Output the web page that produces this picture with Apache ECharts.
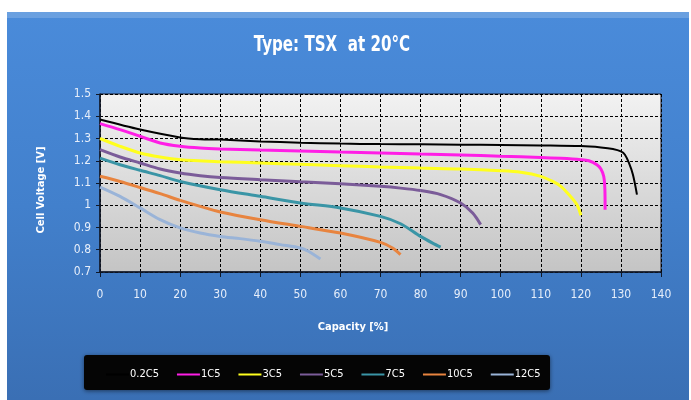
<!DOCTYPE html>
<html>
<head>
<meta charset="utf-8">
<script src="https://cdn.jsdelivr.net/npm/echarts@6/dist/echarts.min.js"></script>
<style>
html,body{margin:0;padding:0;background:#fff;}
#c{width:691px;height:400px;}
</style>
</head>
<body>
<div id="c"></div>
<script>
const titleText = 'Type: TSX  at 20°C';
const seriesNames = ['0.2C5','1C5','3C5','5C5','7C5','10C5','12C5'];
const seriesColors = ['#000000','#ff1ee6','#ffff1e','#7b5c99','#3a95a6','#e8843f','#9ab4d8'];

const cap02 = [0,10,20,25,30,40,50,60,70,80,90,100,110,120,125,128,130,131,132,133,134];
const v02   = [1.385,1.34,1.305,1.297,1.295,1.287,1.281,1.277,1.275,1.274,1.272,1.271,1.269,1.266,1.26,1.253,1.242,1.227,1.19,1.137,1.048];

const cap1 = [0,5,10,15,20,25,30,40,50,60,70,80,90,100,110,115,120,122,124,125,125.7,126,126.05];
const v1   = [1.367,1.34,1.31,1.28,1.265,1.257,1.253,1.248,1.244,1.239,1.235,1.23,1.226,1.22,1.215,1.211,1.205,1.2,1.182,1.163,1.13,1.07,0.98];

const cap3 = [0,5,10,15,20,30,40,50,60,70,80,90,100,105,110,113,115,117,119,120];
const v3   = [1.3,1.265,1.235,1.217,1.205,1.196,1.19,1.184,1.178,1.172,1.167,1.163,1.155,1.148,1.13,1.107,1.085,1.048,1.003,0.955];

const cap5 = [0,5,10,15,20,25,30,40,50,60,70,75,80,85,90,93,95];
const v5   = [1.25,1.217,1.19,1.163,1.145,1.133,1.125,1.115,1.106,1.097,1.085,1.077,1.066,1.048,1.01,0.965,0.913];

const cap7 = [0,5,10,15,20,30,40,50,60,70,75,80,83,85];
const v7   = [1.212,1.182,1.157,1.133,1.107,1.07,1.04,1.01,0.988,0.95,0.917,0.86,0.83,0.812];

const cap10 = [0,5,10,15,20,25,30,40,50,60,70,73,75];
const v10   = [1.13,1.107,1.08,1.052,1.022,0.995,0.97,0.935,0.905,0.875,0.833,0.808,0.778];

const cap12 = [0,5,10,15,20,25,30,35,40,45,50,52,55];
const v12   = [1.082,1.04,0.988,0.935,0.898,0.875,0.86,0.85,0.838,0.823,0.808,0.793,0.758];

const allCaps = [cap02,cap1,cap3,cap5,cap7,cap10,cap12];
const allVolts = [v02,v1,v3,v5,v7,v10,v12];
const lineWidths = [2,3,3,3,3,3,3];

const FONT = "'Liberation Sans Narrow','DejaVu Sans Condensed','Open Sans',sans-serif";

const chart = echarts.init(document.getElementById('c'), null, {renderer:'canvas'});

const series = seriesNames.map((n,i)=>({
  name:n,
  type:'line',
  smooth:0.3,
  showSymbol:false,
  symbol:'none',
  data: allCaps[i].map((x,j)=>[x, allVolts[i][j]]),
  lineStyle:{color:seriesColors[i], width:lineWidths[i]},
  itemStyle:{color:seriesColors[i]},
  z: 10 - i
}));

chart.setOption({
  animation:false,
  backgroundColor:'#ffffff',
  graphic:[
    {type:'rect', z:-10, shape:{x:7,y:12,width:682,height:388},
     style:{fill:new echarts.graphic.LinearGradient(0,0,0,1,[
       {offset:0,color:'#4a8bda'},{offset:0.5,color:'#4280cc'},{offset:1,color:'#3a6fb4'}])}},
    {type:'rect', z:-9, shape:{x:7,y:12,width:682,height:6},
     style:{fill:'rgba(255,255,255,0.18)'}},
    {type:'rect', z:-5, shape:{x:84,y:355,width:466,height:35, r:3},
     style:{fill:'#050505', shadowBlur:4, shadowColor:'rgba(0,0,0,0.5)', shadowOffsetY:1}},
    {type:'text', z:5, x:332, y:46, scaleX:0.8, scaleY:1,
     style:{text:titleText, x:0, y:0, align:'center', verticalAlign:'middle',
       fill:'#ffffff', font:"bold 21px " + FONT}}
  ],
  legend:{
    data:seriesNames,
    left:101, top:364,
    itemWidth:23, itemHeight:2, itemGap:18,
    icon:'rect',
    textStyle:{color:'#ffffff', fontSize:11, fontFamily:FONT, padding:[0,0,0,-4]},
    inactiveColor:'#555'
  },
  grid:{
    left:100, right:30, top:94, bottom:128,
    show:true,
    borderColor:'#1a1a2a', borderWidth:1,
    backgroundColor:new echarts.graphic.LinearGradient(0,0,0,1,[
      {offset:0,color:'#f2f2f2'},{offset:1,color:'#c4c4c4'}])
  },
  xAxis:{
    type:'value', min:0, max:140, interval:10,
    name:'Capacity [%]', nameLocation:'middle', nameGap:50,
    nameTextStyle:{color:'#ffffff', fontSize:11, fontWeight:'bold', fontFamily:FONT, padding:[0,55,0,0]},
    axisLine:{show:true, lineStyle:{color:'#101828', width:1.5}},
    axisTick:{show:true, length:5, lineStyle:{color:'#101828'}},
    axisLabel:{color:'#e6eefa', fontSize:12, margin:17, fontFamily:FONT},
    splitLine:{show:true, lineStyle:{color:'#000000', type:[3,2], width:1}}
  },
  yAxis:{
    type:'value', min:0.7, max:1.5, interval:0.1,
    name:'Cell Voltage [V]', nameLocation:'middle', nameGap:53,
    nameTextStyle:{color:'#ffffff', fontSize:11, fontWeight:'bold', fontFamily:FONT, padding:[0,0,0,-14]},
    axisLine:{show:true, lineStyle:{color:'#101828', width:1.5}},
    axisTick:{show:true, length:4, lineStyle:{color:'#101828'}},
    axisLabel:{color:'#e6eefa', fontSize:12, margin:9, fontFamily:FONT,
      formatter:v=>String(parseFloat(v.toFixed(1)))},
    splitLine:{show:true, lineStyle:{color:'#000000', type:[3,2], width:1}}
  },
  series:series
});
</script>
</body>
</html>
